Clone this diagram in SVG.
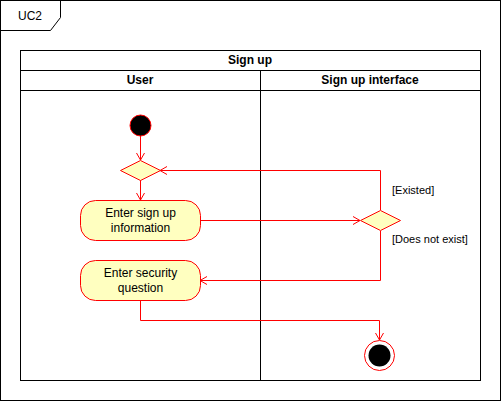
<svg xmlns="http://www.w3.org/2000/svg" width="501" height="401" viewBox="0 0 501 401">
<style>
.t{font-family:"Liberation Sans",Arial,sans-serif;font-size:12px;fill:#000;text-anchor:middle}
.h{font-family:"Liberation Sans",Arial,sans-serif;font-size:12px;font-weight:bold;fill:#000;text-anchor:middle}
.l{font-family:"Liberation Sans",Arial,sans-serif;font-size:11px;fill:#000}
.frame{fill:none;stroke:#000;stroke-width:1}
.act{fill:#ffffc0;stroke:#ff0000;stroke-width:1}
.e{fill:none;stroke:#ff0000;stroke-width:1}
</style>
<defs>
<marker id="arr" markerWidth="10" markerHeight="10" refX="7" refY="5" orient="auto" markerUnits="userSpaceOnUse">
<path d="M0,1 L7,5 L0,9" fill="none" stroke="#ff0000" stroke-width="1"/>
</marker>
</defs>
<rect x="0" y="0" width="501" height="401" fill="#fff"/>
<g id="frame">
<rect class="frame" x="0.5" y="0.5" width="500" height="400"/>
<path class="frame" d="M0.5,30.5 L50.5,30.5 L60.5,17.5 L60.5,0.5"/>
<text class="t" x="30" y="20">UC2</text>
</g>
<g id="pool">
<rect class="frame" x="20.5" y="50.5" width="460" height="330"/>
<line class="frame" x1="20.5" y1="70.5" x2="480.5" y2="70.5"/>
<line class="frame" x1="20.5" y1="90.5" x2="480.5" y2="90.5"/>
<line class="frame" x1="260.5" y1="70.5" x2="260.5" y2="380.5"/>
<text class="h" x="250" y="64">Sign up</text>
<text class="h" x="140" y="84">User</text>
<text class="h" x="370" y="84">Sign up interface</text>
</g>
<g id="connectors">
<path class="e" d="M140.5,136 L140.5,160" marker-end="url(#arr)"/>
<path class="e" d="M140.5,180 L140.5,200" marker-end="url(#arr)"/>
<path class="e" d="M200,220.5 L360,220.5" marker-end="url(#arr)"/>
<path class="e" d="M380.5,210 L380.5,170.5 L160,170.5" marker-end="url(#arr)"/>
<path class="e" d="M380.5,231 L380.5,280.5 L200,280.5" marker-end="url(#arr)"/>
<path class="e" d="M140.5,300 L140.5,320.5 L379.5,320.5 L379.5,340" marker-end="url(#arr)"/>
<text class="l" x="392" y="194">[Existed]</text>
<text class="l" x="392" y="243">[Does not exist]</text>
</g>
<g id="start">
<circle cx="140.5" cy="125.5" r="10.5" fill="#000" stroke="#ff0000"/>
</g>
<g id="decision1">
<path class="act" d="M140.5,160.5 L160.5,170.5 L140.5,180.5 L120.5,170.5 Z"/>
</g>
<g id="enterInfo">
<rect class="act" x="80.5" y="200.5" width="120" height="40" rx="15"/>
<text class="t" x="140.5" y="217">Enter sign up</text>
<text class="t" x="140.5" y="232">information</text>
</g>
<g id="enterQuestion">
<rect class="act" x="80.5" y="260.5" width="120" height="40" rx="15"/>
<text class="t" x="140.5" y="277">Enter security</text>
<text class="t" x="140.5" y="292">question</text>
</g>
<g id="decision2">
<path class="act" d="M380.5,210.5 L400.5,220.5 L380.5,230.5 L360.5,220.5 Z"/>
</g>
<g id="end">
<circle cx="379.5" cy="355.5" r="15" fill="#fff" stroke="#ff0000"/>
<circle cx="379.5" cy="355.5" r="11" fill="#000"/>
</g>
</svg>
